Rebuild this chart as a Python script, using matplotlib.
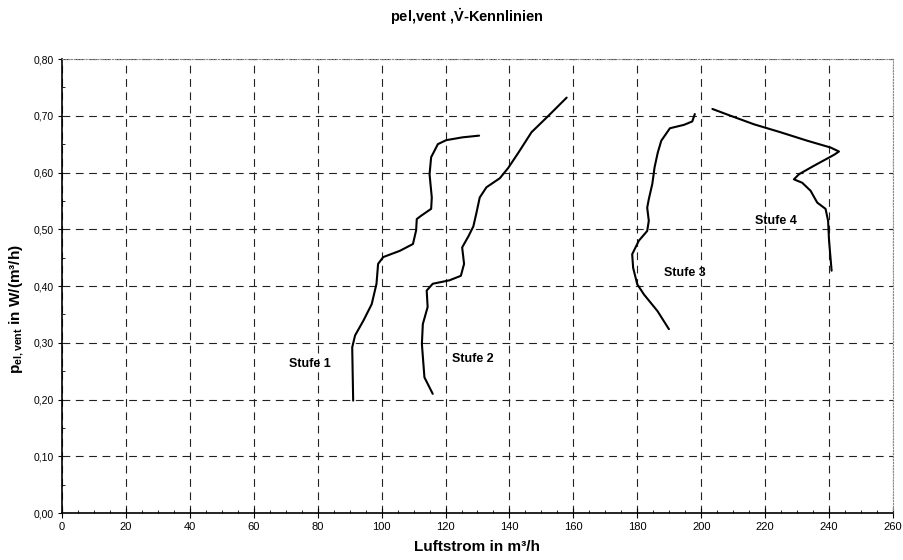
import matplotlib
matplotlib.use("Agg")
import matplotlib.pyplot as plt
from matplotlib.ticker import MultipleLocator, FuncFormatter

plt.rcParams['font.family'] = ['Liberation Sans', 'DejaVu Sans']
plt.rcParams['mathtext.fontset'] = 'custom'
plt.rcParams['mathtext.rm'] = 'Liberation Sans'
plt.rcParams['mathtext.it'] = 'Liberation Sans:italic'
plt.rcParams['mathtext.bf'] = 'Liberation Sans:bold'

# Kennlinien (Luftstrom in m3/h, p in W/(m3/h))
stufe1_x = [91.1, 90.8, 91.7, 94.3, 96.9, 98.4, 98.9, 100.5, 105.7, 109.8, 110.8,
            111.0, 112.4, 115.5, 115.7, 115.0, 115.5, 117.6, 120.2, 125.3, 130.5]
stufe1_y = [0.198, 0.292, 0.313, 0.339, 0.368, 0.404, 0.439, 0.451, 0.462, 0.474, 0.498,
            0.518, 0.524, 0.536, 0.556, 0.597, 0.627, 0.650, 0.657, 0.662, 0.665]

stufe2_x = [116.0, 113.4, 112.6, 112.9, 114.4, 114.1, 116.0, 121.2, 124.8, 125.8, 125.2,
            127.2, 128.7, 129.6, 130.7, 132.8, 137.0, 139.6, 142.8, 146.9, 152.2, 157.9]
stufe2_y = [0.210, 0.239, 0.298, 0.333, 0.363, 0.392, 0.404, 0.410, 0.418, 0.439, 0.468,
            0.488, 0.505, 0.527, 0.556, 0.574, 0.590, 0.608, 0.635, 0.671, 0.700, 0.732]

stufe3_x = [189.9, 186.3, 182.1, 180.0, 178.7, 178.4, 180.5, 183.1, 183.6, 183.1,
            183.6, 184.7, 185.4, 186.4, 187.5, 190.2, 194.6, 197.2, 198.0]
stufe3_y = [0.324, 0.356, 0.385, 0.403, 0.432, 0.456, 0.480, 0.497, 0.515, 0.538,
            0.553, 0.580, 0.609, 0.635, 0.656, 0.678, 0.684, 0.690, 0.703]

stufe4_x = [203.5, 209.2, 216.5, 224.8, 233.2, 240.5, 243.1, 241.5, 235.3, 230.6,
            229.0, 231.6, 234.2, 236.3, 238.9, 239.7, 240.0, 240.8]
stufe4_y = [0.712, 0.700, 0.685, 0.671, 0.656, 0.644, 0.637, 0.631, 0.612, 0.597,
            0.588, 0.582, 0.568, 0.547, 0.536, 0.515, 0.480, 0.427]

labels = ["Stufe 1", "Stufe 2", "Stufe 3", "Stufe 4"]
label_x = [77.5, 128.5, 195.0, 223.5]
label_y = [0.262, 0.272, 0.423, 0.514]

fig = plt.figure(figsize=(9.04, 5.6), dpi=100)
ax = fig.add_axes([0.0686, 0.0839, 0.9192, 0.8107])

for xs, ys in [(stufe1_x, stufe1_y), (stufe2_x, stufe2_y),
               (stufe3_x, stufe3_y), (stufe4_x, stufe4_y)]:
    ax.plot(xs, ys, color='black', lw=1.5, solid_capstyle='round', zorder=3)

for t, x, y in zip(labels, label_x, label_y):
    ax.text(x, y, t, ha='center', va='center', fontsize=9, fontweight='bold')

ax.set_xlim(0, 260)
ax.set_ylim(0, 0.8)
ax.xaxis.set_major_locator(MultipleLocator(20))
ax.xaxis.set_minor_locator(MultipleLocator(5))
ax.yaxis.set_major_locator(MultipleLocator(0.1))
ax.yaxis.set_minor_locator(MultipleLocator(0.05))
ax.yaxis.set_major_formatter(FuncFormatter(lambda v, p: f"{v:.2f}".replace('.', ',')))

ax.grid(True, which='major', color='#222222', lw=0.8, linestyle=(0, (7, 5)))
ax.tick_params(axis='x', which='major', direction='inout', length=7, width=0.8,
               labelsize=8, pad=3)
ax.tick_params(axis='y', which='major', direction='out', length=3, width=0.8,
               labelsize=7.5, pad=3)
ax.tick_params(which='minor', direction='in', length=2.5, width=0.6)

for s in ['left', 'bottom']:
    ax.spines[s].set_linewidth(1.2)
for s in ['top', 'right']:
    ax.spines[s].set_color('#888888')
    ax.spines[s].set_linestyle(':')
    ax.spines[s].set_linewidth(0.8)

ax.set_xlabel("Luftstrom in m³/h", fontsize=11, fontweight='bold', labelpad=6)
fig.text(17 / 904, 1 - 309 / 560, r"$\mathbf{p_{el,vent}}$ in W/(m³/h)",
         rotation=90, ha='center', va='center', fontsize=11, fontweight='bold')
fig.text(0.517, 1 - 17 / 560, r"pel,vent ,$\mathbf{\dot{V}}$-Kennlinien",
         ha='center', va='center', fontsize=10.5, fontweight='bold')

fig.savefig("out.png", dpi=100)
